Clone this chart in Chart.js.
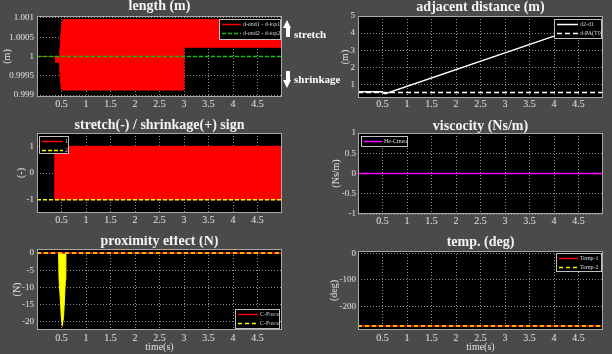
<!DOCTYPE html>
<html>
<head>
<meta charset="utf-8">
<script src="https://cdn.jsdelivr.net/npm/chart.js@4.4.1/dist/chart.umd.min.js"></script>
<style>
  html, body { margin: 0; padding: 0; background: #4a4a4a; }
  #wrap { position: relative; width: 612px; height: 354px; overflow: hidden; background: #4a4a4a; }
  canvas { position: absolute; }
  .note { position: absolute; color: #fff; font: bold 11px 'Liberation Serif', serif; line-height: 12px; white-space: nowrap; }
  .stem { position: absolute; width: 4px; height: 9px; background: #fff; }
  .head-up { position: absolute; width: 0; height: 0; border-left: 4.5px solid transparent; border-right: 4.5px solid transparent; border-bottom: 8px solid #fff; }
  .head-down { position: absolute; width: 0; height: 0; border-left: 4.5px solid transparent; border-right: 4.5px solid transparent; border-top: 8px solid #fff; }
</style>
</head>
<body>
<div id="wrap">
  <canvas id="cLength" width="300" height="118" style="left:0;top:0"></canvas>
  <canvas id="cDist" width="306" height="118" style="left:306px;top:0"></canvas>
  <canvas id="cSign" width="300" height="118" style="left:0;top:118px"></canvas>
  <canvas id="cVisc" width="306" height="118" style="left:306px;top:118px"></canvas>
  <canvas id="cProx" width="300" height="118" style="left:0;top:236px"></canvas>
  <canvas id="cTemp" width="306" height="118" style="left:306px;top:236px"></canvas>

  <div class="head-up" style="left:283px;top:20px"></div>
  <div class="stem" style="left:285.5px;top:28px"></div>
  <div class="note" style="left:294px;top:28px">stretch</div>
  <div class="stem" style="left:285.5px;top:71px"></div>
  <div class="head-down" style="left:283px;top:80px"></div>
  <div class="note" style="left:294px;top:73px">shrinkage</div>
</div>
<script>
// shared time axis
const timeTicks = [0.5, 1, 1.5, 2, 2.5, 3, 3.5, 4, 4.5];
const timeLabels = ['0.5', '1', '1.5', '2', '2.5', '3', '3.5', '4', '4.5'];

// length (m) - envelope of the fast oscillation
const lenT  = [0, 0.37, 0.38, 0.46, 0.47, 0.5, 0.53, 0.56, 3.0, 3.0, 5.0];
const lenHi = [1, 1, 1, 1, 1.0002, 1.0008, 1.00096, 1.00096, 1.00096, 1.00096, 1.00096];
const lenLo = [1, 1, 0.99985, 0.99985, 0.9995, 0.99915, 0.99913, 0.99913, 0.99913, 1.00024, 1.00024];
const lenRefT = [0, 5];
const lenRef = [1, 1];
const lenNames = ['d-end1 - d-top1', 'd-end2 - d-top2'];
const lenTicks = [0.999, 0.9995, 1, 1.0005, 1.001];
const lenTickLabels = ['0.999', '0.9995', '1', '1.0005', '1.001'];

// adjacent distance (m)
const distT = [0, 0.47, 0.56, 4.0];
const distVal = [0.56, 0.56, 0.45, 3.82];
const distRefT = [0, 5];
const distRef = [0.52, 0.52];
const distNames = ['d2-d1', 'd-PA(T0)'];
const distTicks = [1, 2, 3, 4, 5];
const distTickLabels = ['1', '2', '3', '4', '5'];

// stretch / shrinkage sign
const signT  = [0, 0.37, 0.37, 5];
const signHi = [1, 1, 1, 1];
const signLo = [1, 1, -1, -1];
const signRefT = [0, 5];
const signRef = [-1, -1];
const signNames = ['1', '2'];
const signTicks = [-1, 0, 1];
const signTickLabels = ['-1', '0', '1'];

// viscocity (Ns/m)
const viscT = [0, 5];
const viscVal = [0, 0];
const viscNames = ['He-Cmea'];
const viscTicks = [-1, -0.5, 0, 0.5, 1];
const viscTickLabels = ['-1', '-0.5', '0', '0.5', '1'];

// proximity effect (N)
const forceT = [0, 5];
const force1 = [0, 0];
const force2 = [0, 0];
const spikeT = [0.44, 0.45, 0.48, 0.495, 0.516, 0.543, 0.557, 0.58, 0.59];
const spikeVal = [0, -7.7, -14.5, -18.4, -21.3, -18.4, -14.5, -7.7, 0];
const forceNames = ['C-Force', 'C-Force'];
const forceTicks = [-20, -15, -10, -5, 0];
const forceTickLabels = ['-20', '-15', '-10', '-5', '0'];

// temp. (deg)
const tempT = [0, 5];
const temp1 = [-273, -273];
const temp2 = [-273, -273];
const tempNames = ['Temp-1', 'Temp-2'];
const tempTicks = [-200, -100, 0];
const tempTickLabels = ['-200', '-100', '0'];

const SERIF = "'Liberation Serif', 'Times New Roman', serif";
const RED = '#ff0000', YEL = '#ffff00', GRN = '#10c010', MAG = '#ff00ff', WHT = '#ffffff';
const TXT = '#e4e4e4';

const xy = (ts, vs) => ts.map((t, i) => ({ x: t, y: vs[i] }));

const panelBox = {
  id: 'panelBox',
  beforeDraw(chart) {
    const { ctx, chartArea: a } = chart;
    ctx.save();
    ctx.fillStyle = '#000';
    ctx.fillRect(a.left, a.top, a.width, a.height);
    ctx.restore();
  },
  afterDraw(chart, args, o) {
    const { ctx, chartArea: a } = chart;
    ctx.save();
    ctx.strokeStyle = '#a8a8a8';
    ctx.lineWidth = 1;
    ctx.strokeRect(Math.round(a.left) + 0.5, Math.round(a.top) + 0.5, Math.round(a.width) - 1, Math.round(a.height) - 1);
    // y tick labels written here when the scale's own labels are switched off
    if (o && o.labels) {
      const y = chart.scales.y;
      ctx.fillStyle = TXT;
      ctx.font = '9px ' + SERIF;
      ctx.textAlign = 'right';
      ctx.textBaseline = 'middle';
      o.values.forEach((v, i) => ctx.fillText(o.labels[i], a.left - o.pad, y.getPixelForValue(v)));
    }
    ctx.restore();
  }
};

// legend drawn inside the plot box, like the original
const innerLegend = {
  id: 'innerLegend',
  afterDatasetsDraw(chart, args, o) {
    if (!o || !o.width) return;
    const ctx = chart.ctx;
    const items = chart.data.datasets.filter(d => !d.hideInLegend);
    ctx.save();
    ctx.fillStyle = '#000';
    ctx.fillRect(o.left, o.top, o.width, o.height);
    ctx.strokeStyle = '#c0c0c0';
    ctx.lineWidth = 1;
    ctx.strokeRect(o.left + 0.5, o.top + 0.5, o.width - 1, o.height - 1);
    items.forEach((d, i) => {
      const y = Math.round(o.top + 5 + i * 8.8) + 0.5;
      ctx.strokeStyle = d.borderColor;
      ctx.lineWidth = 1.5;
      ctx.setLineDash(d.borderDash || []);
      ctx.beginPath();
      ctx.moveTo(o.left + 3, y);
      ctx.lineTo(o.left + 3 + o.line, y);
      ctx.stroke();
      ctx.setLineDash([]);
      ctx.fillStyle = '#d8d8d8';
      ctx.font = '6px ' + SERIF;
      ctx.textBaseline = 'middle';
      ctx.fillText(d.label, o.left + 5 + o.line, y);
    });
    ctx.restore();
  }
};

function panel(id, p) {
  const cv = document.getElementById(id);
  const W = cv.width, H = cv.height;
  const pt = Math.max(0, 2 * p.titleY - p.box.t);
  const lh = 2 * (p.titleY - pt);
  return new Chart(cv, {
    type: 'line',
    data: { datasets: p.datasets },
    options: {
      responsive: false,
      animation: false,
      events: [],
      layout: { padding: { left: 0, top: 0, right: W - p.box.r, bottom: 0 } },
      elements: { point: { radius: 0 }, line: { borderWidth: 1.2, tension: 0 } },
      plugins: {
        legend: { display: false },
        tooltip: { enabled: false },
        title: {
          display: true, text: p.title, fullSize: false, color: '#f4f4f4',
          font: { family: SERIF, size: 14, weight: 'bold', lineHeight: lh + 'px' },
          padding: { top: pt, bottom: p.box.t - pt - lh }
        },
        innerLegend: p.legend,
        panelBox: p.ownLabels ? { values: p.yTicks, labels: p.yLabels, pad: p.yPad } : {}
      },
      scales: {
        x: {
          type: 'linear', min: 0, max: 5,
          afterBuildTicks: s => { s.ticks = timeTicks.map(v => ({ value: v })); },
          afterFit: s => { s.height = H - p.box.b; },
          grid: { color: '#8c8c8c', drawTicks: false },
          border: { display: false, dash: [1, 2] },
          ticks: {
            autoSkip: false, maxRotation: 0, padding: p.xPad, color: TXT,
            font: { family: SERIF, size: 10 },
            callback: v => timeLabels[timeTicks.indexOf(v)]
          },
          title: p.xTitle
            ? { display: true, text: p.xTitle, color: TXT, font: { family: SERIF, size: 10 }, padding: { top: 0, bottom: 1 } }
            : { display: false }
        },
        y: {
          type: 'linear', min: p.yMin, max: p.yMax,
          afterBuildTicks: s => { s.ticks = p.yTicks.map(v => ({ value: v })); },
          afterFit: s => { s.width = p.box.l; },
          grid: { color: '#8c8c8c', drawTicks: false },
          border: { display: false, dash: [1, 2] },
          ticks: {
            display: !p.ownLabels,
            autoSkip: false, padding: p.yPad, color: TXT,
            font: { family: SERIF, size: 9 },
            callback: v => p.yLabels[p.yTicks.indexOf(v)]
          },
          title: {
            display: true, text: p.yTitle, color: TXT,
            font: { family: SERIF, size: 10 },
            padding: { top: p.yTitleX - 6, bottom: 0 }
          }
        }
      }
    },
    plugins: [panelBox, innerLegend]
  });
}

panel('cLength', {
  title: 'length (m)', titleY: 6.5, box: { l: 37, r: 282, t: 16, b: 97 },
  yMin: 0.99895, yMax: 1.00105, yTicks: lenTicks, yLabels: lenTickLabels,
  yTitle: '(m)', yTitleX: 7, xPad: 1.5, yPad: 3,
  legend: { left: 219, top: 19, width: 62, height: 21, line: 19 },
  datasets: [
    { label: lenNames[0], data: xy(lenT, lenHi), borderColor: RED, borderWidth: 1, order: 1 },
    { label: '', hideInLegend: true, data: xy(lenT, lenLo), borderColor: RED, borderWidth: 1, fill: '-1', backgroundColor: RED, order: 1 },
    { label: lenNames[1], data: xy(lenRefT, lenRef), borderColor: GRN, borderDash: [4, 2], borderWidth: 1.5, order: 0 }
  ]
});

panel('cDist', {
  title: 'adjacent distance (m)', titleY: 7.5, box: { l: 52, r: 297, t: 16, b: 98 },
  yMin: 0.2, yMax: 5, yTicks: distTicks, yLabels: distTickLabels,
  yTitle: '(m)', yTitleX: 39, xPad: 0.5, yPad: 3,
  legend: { left: 248, top: 19, width: 48, height: 20, line: 21 },
  datasets: [
    { label: distNames[0], data: xy(distT, distVal), borderColor: WHT, borderWidth: 1.5 },
    { label: distNames[1], data: xy(distRefT, distRef), borderColor: WHT, borderDash: [5, 3], borderWidth: 1.5 }
  ]
});

panel('cSign', {
  title: 'stretch(-) / shrinkage(+) sign', titleY: 7, box: { l: 37, r: 282, t: 15, b: 95 },
  yMin: -1.5, yMax: 1.5, yTicks: signTicks, yLabels: signTickLabels,
  yTitle: '(-)', yTitleX: 21, xPad: 1.5, yPad: 3,
  legend: { left: 39, top: 18, width: 30, height: 18, line: 21 },
  datasets: [
    { label: signNames[0], data: xy(signT, signHi), borderColor: RED, borderWidth: 1, order: 1 },
    { label: '', hideInLegend: true, data: xy(signT, signLo), borderColor: RED, borderWidth: 1, fill: '-1', backgroundColor: RED, order: 1 },
    { label: signNames[1], data: xy(signRefT, signRef), borderColor: YEL, borderDash: [4, 2], borderWidth: 1.5, order: 0 }
  ]
});

panel('cVisc', {
  title: 'viscocity (Ns/m)', titleY: 8, box: { l: 52, r: 297, t: 15, b: 96 },
  yMin: -1, yMax: 1, yTicks: viscTicks, yLabels: viscTickLabels,
  yTitle: '(Ns/m)', yTitleX: 30, xPad: 1.5, yPad: 2,
  legend: { left: 55, top: 18, width: 47, height: 11, line: 18 },
  datasets: [
    { label: viscNames[0], data: xy(viscT, viscVal), borderColor: MAG, borderWidth: 1.5 }
  ]
});

panel('cProx', {
  title: 'proximity effect (N)', titleY: 5.7, box: { l: 37, r: 282, t: 13, b: 94 },
  yMin: -22.4, yMax: 1.2, yTicks: forceTicks, yLabels: forceTickLabels,
  yTitle: '(N)', yTitleX: 17, xTitle: 'time(s)', xPad: 2.5, yPad: 3,
  legend: { left: 235, top: 73, width: 45, height: 20, line: 20 },
  datasets: [
    { label: forceNames[0], data: xy(forceT, force1), borderColor: RED, borderWidth: 1.5, order: 1 },
    { label: forceNames[1], data: xy(forceT, force2), borderColor: YEL, borderDash: [4, 3], borderWidth: 1.5, order: 0 },
    { label: '', hideInLegend: true, data: xy(spikeT, spikeVal), borderColor: YEL, borderWidth: 1, fill: 'origin', backgroundColor: YEL, order: 2 }
  ]
});

panel('cTemp', {
  title: 'temp. (deg)', titleY: 6.5, box: { l: 52, r: 297, t: 15, b: 94 },
  yMin: -288, yMax: 9, yTicks: tempTicks, yLabels: tempTickLabels, ownLabels: true,
  yTitle: '(deg)', yTitleX: 28, xTitle: 'time(s)', xPad: 2.5, yPad: 2,
  legend: { left: 250, top: 17, width: 46, height: 19, line: 19 },
  datasets: [
    { label: tempNames[0], data: xy(tempT, temp1), borderColor: RED, borderWidth: 1.5, order: 1 },
    { label: tempNames[1], data: xy(tempT, temp2), borderColor: YEL, borderDash: [4, 3], borderWidth: 1.5, order: 0 }
  ]
});
</script>
</body>
</html>
